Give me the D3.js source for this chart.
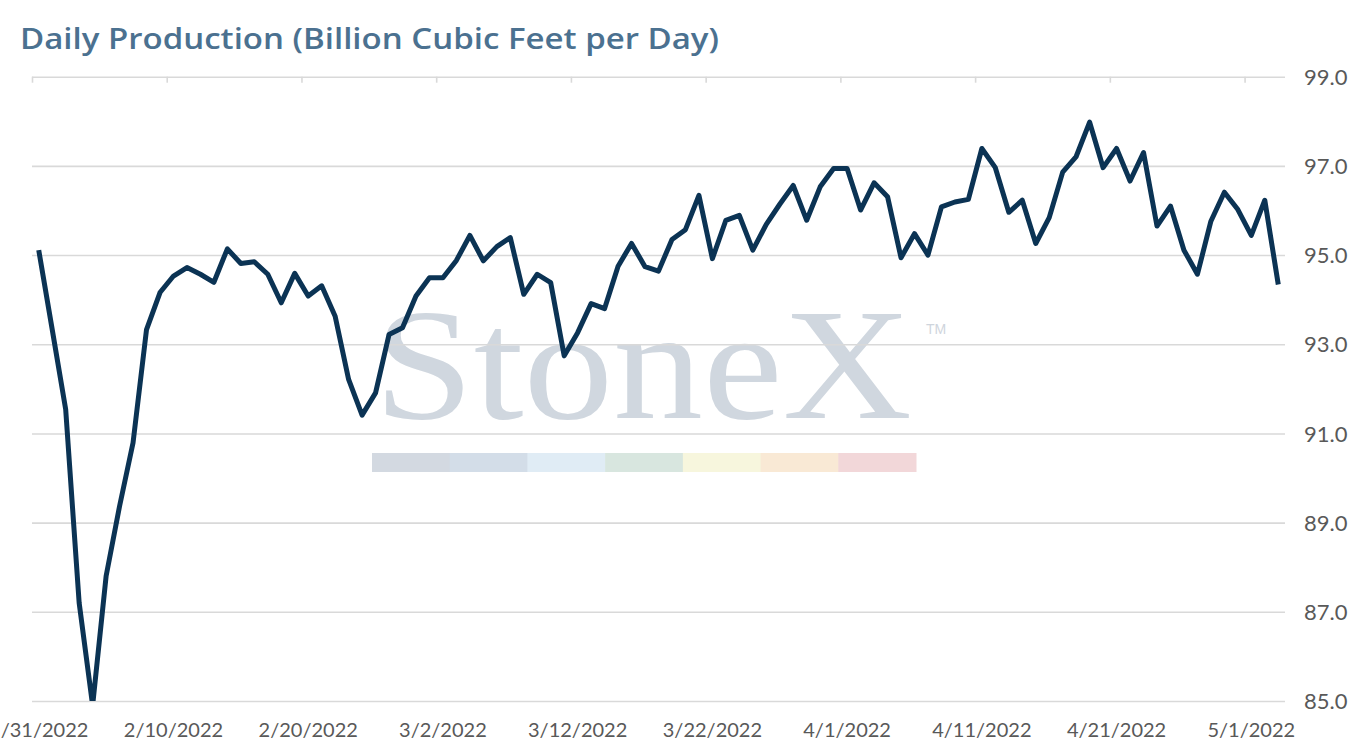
<!DOCTYPE html>
<html>
<head>
<meta charset="utf-8">
<script src="https://cdn.jsdelivr.net/npm/d3@7"></script>
<style>
  body { margin: 0; background: #fff; }
  svg { display: block; }
</style>
</head>
<body>
<script>
// daily production, bcf/d, one value per day from 1/31/2022
var startDate = "2022-01-31";
var production = [
  95.11, 93.33, 91.54, 87.2, 84.9, 87.8, 89.37, 90.79, 93.33, 94.16,
  94.53, 94.72, 94.57, 94.39, 95.14, 94.81, 94.85, 94.57, 93.93, 94.59,
  94.08, 94.31, 93.63, 92.21, 91.41, 91.91, 93.22, 93.37, 94.08, 94.49,
  94.49, 94.88, 95.44, 94.87, 95.19, 95.39, 94.12, 94.57, 94.38, 92.74,
  93.26, 93.91, 93.8, 94.75, 95.26, 94.74, 94.64, 95.35, 95.57, 96.34,
  94.92, 95.78, 95.89, 95.11, 95.69, 96.14, 96.56, 95.78, 96.53, 96.94,
  96.94, 96.01, 96.62, 96.31, 94.94, 95.48, 95.0, 96.08, 96.19, 96.25,
  97.39, 96.96, 95.96, 96.23, 95.26, 95.84, 96.86, 97.21, 97.98, 96.96,
  97.39, 96.66, 97.3, 95.65, 96.1, 95.11, 94.57, 95.76, 96.41, 96.02,
  95.44, 96.23, 94.34
];
var xTickLabels = ["1/31/2022", "2/10/2022", "2/20/2022", "3/2/2022", "3/12/2022",
                   "3/22/2022", "4/1/2022", "4/11/2022", "4/21/2022", "5/1/2022"];
var yTicks = [85, 87, 89, 91, 93, 95, 97, 99];
var bandColors = ["#d3d9e1", "#d3dde8", "#e0ecf5", "#d8e6df", "#f7f6dd", "#f9e9d5", "#f2d7d9"];

var w = 1351,
    h = 750;

var parse = d3.timeParse("%Y-%m-%d");
var fmt = d3.timeFormat("%-m/%-d/%Y");
var t0 = parse(startDate);

var dataset = production.map(function(v, i) {
  return { date: d3.timeDay.offset(t0, i), value: v };
});
var tickDates = xTickLabels.map(function(s) { return d3.timeParse("%m/%d/%Y")(s); });

var xScale = d3.scaleTime()
  .domain([t0, d3.timeDay.offset(t0, production.length)])
  .range([32, 1285]);

var yScale = d3.scaleLinear()
  .domain([85, 99])
  .range([701, 76.7]);

// points sit mid-day (between tick marks)
function midX(d) { return xScale(d3.timeHour.offset(d, 12)); }

var svg = d3.select("body")
  .append("svg")
  .attr("width", w)
  .attr("height", h);

svg.append("text")
  .attr("x", 20)
  .attr("y", 49)
  .attr("font-family", "'Open Sans', sans-serif")
  .attr("font-weight", 600)
  .attr("font-size", "29px")
  .attr("textLength", 699)
  .attr("lengthAdjust", "spacingAndGlyphs")
  .attr("fill", "#4b7190")
  .text("Daily Production (Billion Cubic Feet per Day)");

// watermark
var wm = svg.append("g").attr("class", "watermark");
wm.append("text")
  .attr("x", 374)
  .attr("y", 418)
  .attr("font-family", "'Liberation Serif', serif")
  .attr("font-size", "158px")
  .attr("textLength", 538)
  .attr("lengthAdjust", "spacingAndGlyphs")
  .attr("fill", "#d0d7df")
  .text("StoneX");
wm.append("text")
  .attr("x", 926)
  .attr("y", 334)
  .attr("font-family", "'Liberation Sans', sans-serif")
  .attr("font-size", "14px")
  .attr("fill", "#cfd5dd")
  .text("TM");

var bandScale = d3.scaleBand()
  .domain(d3.range(bandColors.length))
  .range([372, 916]);
wm.selectAll("rect")
  .data(bandColors)
  .enter()
  .append("rect")
  .attr("x", function(d, i) { return bandScale(i); })
  .attr("y", 453)
  .attr("width", bandScale.bandwidth() + 0.5)
  .attr("height", 19)
  .attr("fill", function(d) { return d; });

// gridlines + right axis labels
var yAxis = d3.axisRight(yScale)
  .tickValues(yTicks)
  .tickSize(1285 - 32)
  .tickFormat(d3.format(".1f"));

var gy = svg.append("g")
  .attr("transform", "translate(32,0)")
  .call(yAxis);
gy.select(".domain").remove();
gy.selectAll("line")
  .attr("stroke", "#d9d9d9")
  .attr("stroke-width", 1.6);
gy.selectAll("text")
  .attr("x", 1304 - 32)
  .attr("dy", "0.35em")
  .attr("font-family", "Lato, sans-serif")
  .attr("font-size", "22px")
  .attr("fill", "#595959");

// date ticks hang from the top line
var xAxis = d3.axisBottom(xScale)
  .tickValues(tickDates)
  .tickSize(6)
  .tickFormat("");
var gx = svg.append("g")
  .attr("transform", "translate(0,76.7)")
  .call(xAxis);
gx.select(".domain").remove();
gx.selectAll("line")
  .attr("stroke", "#d9d9d9")
  .attr("stroke-width", 1.6);

svg.append("g")
  .selectAll("text")
  .data(tickDates)
  .enter()
  .append("text")
  .attr("x", midX)
  .attr("y", 737)
  .attr("text-anchor", "middle")
  .attr("font-family", "Lato, sans-serif")
  .attr("font-size", "20px")
  .attr("fill", "#595959")
  .text(function(d) { return fmt(d); });

svg.append("clipPath")
  .attr("id", "plot")
  .append("rect")
  .attr("x", 0)
  .attr("y", yScale(99) - 10)
  .attr("width", w)
  .attr("height", yScale(85) - yScale(99) + 10);

var line = d3.line()
  .x(function(d) { return midX(d.date); })
  .y(function(d) { return yScale(d.value); });

svg.append("path")
  .datum(dataset)
  .attr("clip-path", "url(#plot)")
  .attr("d", line)
  .attr("fill", "none")
  .attr("stroke", "#0b3354")
  .attr("stroke-width", 5)
  .attr("stroke-linejoin", "round");
</script>
</body>
</html>
